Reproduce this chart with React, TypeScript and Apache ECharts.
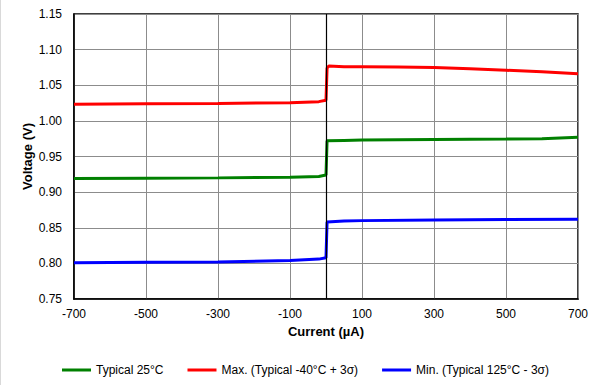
import React, { useEffect, useRef } from "react";
import * as echarts from "echarts";

const X_MIN = -700;
const X_MAX = 700;
const xTickLabels = ["-700", "-500", "-300", "-100", "100", "300", "500", "700"];

const typicalX = [-700, -500, -300, -100, -20, 0, 3, 50, 100, 300, 500, 600, 700];
const typicalY = [0.919, 0.9195, 0.92, 0.921, 0.922, 0.924, 0.972, 0.9725, 0.973, 0.974, 0.9745, 0.975, 0.977];

const maxX = [-700, -500, -300, -100, -20, 0, 3, 8, 50, 100, 200, 300, 400, 500, 600, 700];
const maxY = [1.0235, 1.024, 1.0245, 1.0255, 1.027, 1.029, 1.074, 1.077, 1.076, 1.076, 1.0755, 1.075, 1.073, 1.071, 1.069, 1.066];

const minX = [-700, -500, -300, -100, -20, 0, 3, 50, 100, 300, 500, 700];
const minY = [0.801, 0.8015, 0.802, 0.804, 0.806, 0.808, 0.858, 0.8595, 0.86, 0.861, 0.8615, 0.862];

const seriesNames = ["Typical 25°C", "Max. (Typical -40°C + 3σ)", "Min. (Typical 125°C - 3σ)"];
const seriesColors = ["#008000", "#ff0000", "#0000ff"];

// x is shifted by -X_MIN so that the axis starts at 0 and interval ticks land on -700, -500, ...
const shift = (xs: number[], ys: number[]) => xs.map((x, i) => [x - X_MIN, ys[i]]);

export default function App() {
  const ref = useRef<HTMLDivElement>(null);
  useEffect(() => {
    if (!ref.current) return;
    const chart = echarts.init(ref.current, null, { renderer: "svg" });
    const font = "'Liberation Sans', Arial, sans-serif";
    const datasets = [shift(typicalX, typicalY), shift(maxX, maxY), shift(minX, minY)];
    chart.setOption({
      animation: false,
      backgroundColor: "#ffffff",
      textStyle: { fontFamily: font },
      grid: { left: 74, right: 11, top: 14, bottom: 86, show: true, borderColor: "#000", borderWidth: 1.5 },
      legend: {
        left: 62,
        top: 364,
        padding: 0,
        itemWidth: 29,
        itemHeight: 3,
        itemGap: 24,
        icon: "rect",
        textStyle: { fontFamily: font, fontSize: 12, color: "#000" },
        data: seriesNames,
      },
      xAxis: {
        type: "value",
        min: 0,
        max: X_MAX - X_MIN,
        interval: 200,
        name: "Current (µA)",
        nameLocation: "middle",
        nameGap: 26,
        nameMoveOverlap: false,
        nameTextStyle: { fontFamily: font, fontSize: 13, fontWeight: "bold", color: "#000" },
        axisLine: { show: true, lineStyle: { color: "#000", width: 1.5 } },
        axisTick: { show: false },
        axisLabel: {
          fontFamily: font,
          fontSize: 12,
          color: "#000",
          margin: 9,
          formatter: (v: number) => xTickLabels[Math.round(v / 200)] ?? String(v + X_MIN),
        },
        splitLine: { show: true, lineStyle: { color: "#8c8c8c", width: 1 } },
      },
      yAxis: {
        type: "value",
        min: 0.75,
        max: 1.15,
        interval: 0.05,
        name: "Voltage (V)",
        nameLocation: "middle",
        nameRotate: 90,
        nameGap: 40,
        nameMoveOverlap: false,
        nameTextStyle: { fontFamily: font, fontSize: 13, fontWeight: "bold", color: "#000" },
        axisLine: { show: true, lineStyle: { color: "#000", width: 1.5 } },
        axisTick: { show: false },
        axisLabel: {
          fontFamily: font,
          fontSize: 12,
          color: "#000",
          margin: 12,
          formatter: (v: number) => v.toFixed(2),
        },
        splitLine: { show: true, lineStyle: { color: "#8c8c8c", width: 1 } },
      },
      series: [
        ...seriesNames.map((name, i) => ({
          name,
          type: "line",
          data: datasets[i],
          showSymbol: false,
          symbol: "none",
          lineStyle: { color: seriesColors[i], width: 3 },
          itemStyle: { color: seriesColors[i] },
          z: 3,
        })),
        {
          name: "zero",
          type: "line",
          data: [],
          markLine: {
            silent: true,
            symbol: "none",
            label: { show: false },
            lineStyle: { color: "#000", width: 1.2, type: "solid" },
            data: [{ xAxis: 0 - X_MIN }],
          },
          z: 2,
        },
      ],
      graphic: [
        { type: "line", shape: { x1: 0.5, y1: 0, x2: 0.5, y2: 385 }, style: { stroke: "#d9d9d9", lineWidth: 1 } },
      ],
    });
    return () => chart.dispose();
  }, []);
  return <div ref={ref} style={{ width: 591, height: 385, position: "absolute", left: 0, top: 0 }} />;
}
